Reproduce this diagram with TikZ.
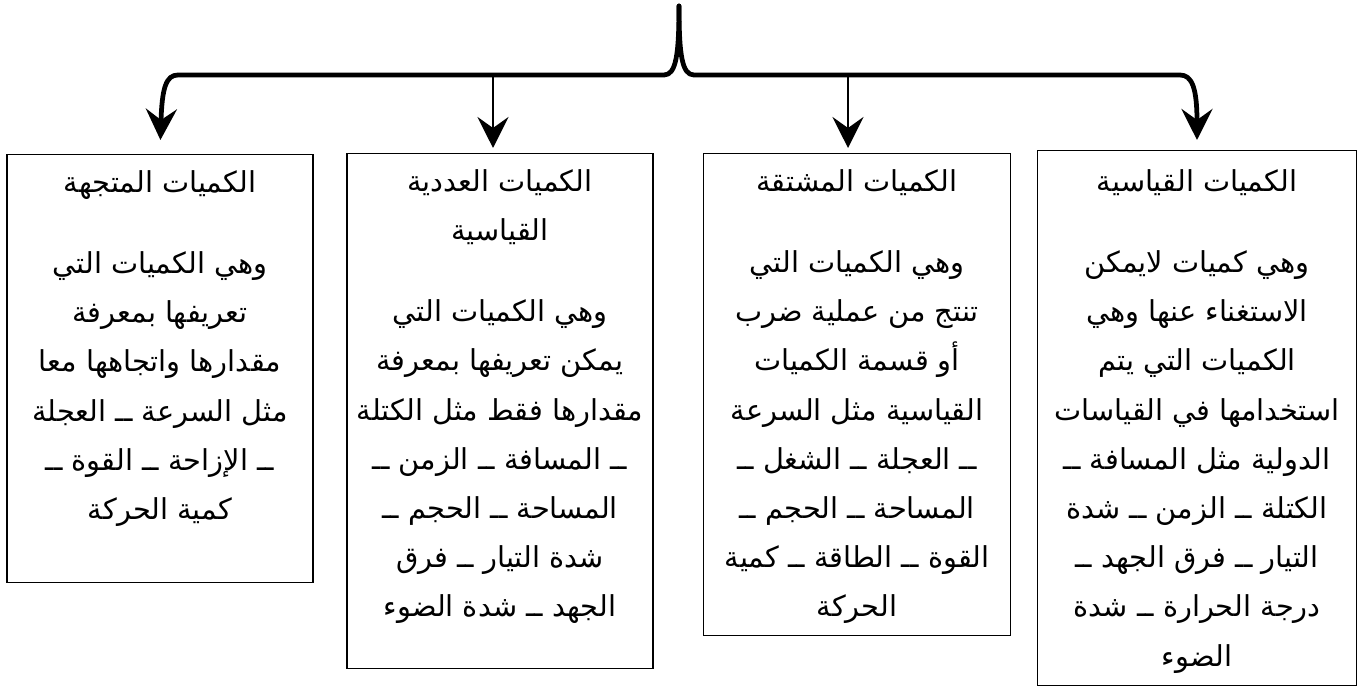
\documentclass[tikz,border=0pt]{standalone}
\usepackage{fontspec}
\newfontfamily\arabicfont[Script=Arabic]{DejaVu Sans}
\TeXXeTstate=1
\usetikzlibrary{arrows.meta}

\newcommand{\rtl}[1]{\beginR #1\endR}

\tikzset{
  frame/.style={draw, line width=0.7pt, anchor=north, inner sep=0pt},
  qtext/.style={anchor=north, align=center, inner sep=0pt,
    font=\arabicfont\fontsize{16.4}{28}\selectfont},
  trunk/.style={line width=2.7pt, line join=round, line cap=round},
  bigtip/.style={-{Stealth[length=0.62cm,width=0.62cm,inset=0.22cm]}},
  branch/.style={line width=1.5pt, bigtip}
}

\begin{document}
\begin{tikzpicture}[x=0.02cm,y=-0.02cm]
  \useasboundingbox (0,0) rectangle (1366,688) ;
  % the four boxes
  \node[frame,minimum width=6.12cm,minimum height=8.56cm] (vector) at (160,154) {} ;
  \node[frame,minimum width=6.12cm,minimum height=10.3cm] (scalar) at (500,153) {} ;
  \node[frame,minimum width=6.14cm,minimum height=9.64cm] (derived) at (857,153) {} ;
  \node[frame,minimum width=6.38cm,minimum height=10.7cm] (basic) at (1197,150) {} ;
  % their texts
  \node[qtext] (vectortext) at ([yshift=-0.33cm]vector.north)
    {\rtl{الكميات المتجهة}\\[18pt]
     \rtl{وهي الكميات التي}\\
     \rtl{تعريفها بمعرفة}\\
     \rtl{مقدارها واتجاهها معا}\\
     \rtl{مثل السرعة ــ العجلة}\\
     \rtl{ــ الإزاحة ــ القوة ــ}\\
     \rtl{كمية الحركة}} ;
  \node[qtext] (scalartext) at ([yshift=-0.33cm]scalar.north)
    {\rtl{الكميات العددية}\\
     \rtl{القياسية}\\[18pt]
     \rtl{وهي الكميات التي}\\
     \rtl{يمكن تعريفها بمعرفة}\\
     \rtl{مقدارها فقط مثل الكتلة}\\
     \rtl{ــ المسافة ــ الزمن ــ}\\
     \rtl{المساحة ــ الحجم ــ}\\
     \rtl{شدة التيار ــ فرق}\\
     \rtl{الجهد ــ شدة الضوء}} ;
  \node[qtext] (derivedtext) at ([yshift=-0.33cm]derived.north)
    {\rtl{الكميات المشتقة}\\[18pt]
     \rtl{وهي الكميات التي}\\
     \rtl{تنتج من عملية ضرب}\\
     \rtl{أو قسمة الكميات}\\
     \rtl{القياسية مثل السرعة}\\
     \rtl{ــ العجلة ــ الشغل ــ}\\
     \rtl{المساحة ــ الحجم ــ}\\
     \rtl{القوة ــ الطاقة ــ كمية}\\
     \rtl{الحركة}} ;
  \node[qtext] (basictext) at ([yshift=-0.39cm]basic.north)
    {\rtl{الكميات القياسية}\\[18pt]
     \rtl{وهي كميات لايمكن}\\
     \rtl{الاستغناء عنها وهي}\\
     \rtl{الكميات التي يتم}\\
     \rtl{استخدامها في القياسات}\\
     \rtl{الدولية مثل المسافة ــ}\\
     \rtl{الكتلة ــ الزمن ــ شدة}\\
     \rtl{التيار ــ فرق الجهد ــ}\\
     \rtl{درجة الحرارة ــ شدة}\\
     \rtl{الضوء}} ;
  % the brace on top
  \coordinate (top) at (679,6) ;
  \coordinate (midL) at (493,75) ;
  \coordinate (midR) at (848,75) ;
  \draw[trunk,bigtip,shorten >=0.28cm] (top) .. controls (679,55) and (676,75) .. (664,75)
        -- (178,75) .. controls (166,75) and (162,88) .. (vector.north) ;
  \draw[trunk,bigtip,shorten >=0.2cm] (top) .. controls (679,55) and (682,75) .. (694,75)
        -- (1180,75) .. controls (1192,75) and (1197,88) .. (basic.north) ;
  \draw[branch,shorten >=0.1cm] (midL) -- (midL |- scalar.north) ;
  \draw[branch,shorten >=0.1cm] (midR) -- (midR |- derived.north) ;
\end{tikzpicture}
\end{document}
